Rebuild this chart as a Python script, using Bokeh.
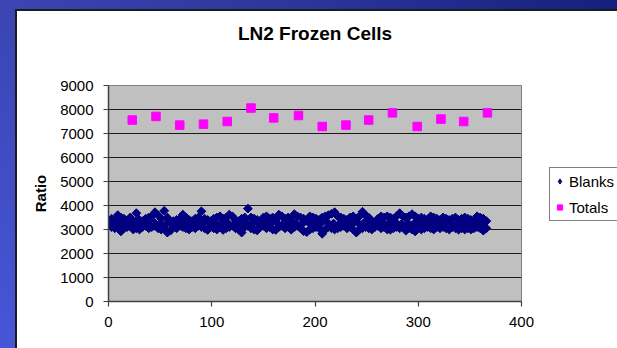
from bokeh.plotting import figure
from bokeh.models import Range1d, FixedTicker, Legend, LegendItem, ColumnDataSource, Div, Title
from bokeh.layouts import row, column
from bokeh.embed import file_html
from bokeh.resources import INLINE
import math

# ---------------- data ----------------
chart_title = "LN2 Frozen Cells"
x_ticks = [0, 100, 200, 300, 400]
y_ticks = [0, 1000, 2000, 3000, 4000, 5000, 6000, 7000, 8000, 9000]

totals_day = [23, 46, 69, 92, 115, 138, 160, 184, 207, 230, 252, 275, 299, 322, 344, 367]
totals_ratio = [7560, 7710, 7350, 7390, 7500, 8060, 7650, 7750, 7290, 7350, 7560, 7860, 7290, 7600, 7500, 7860]

blank_days_a = [0, 3, 6, 9, 12, 15, 18, 21, 24, 27, 30, 33, 36, 39, 42, 45, 48, 51, 54, 57,
                60, 63, 66, 69, 72, 75, 78, 81, 84, 87, 90, 93, 96, 99, 102, 105, 108, 111, 114, 117,
                120, 123, 126, 129, 132, 135, 138, 141, 144, 147, 150, 153, 156, 159, 162, 165, 168, 171, 174, 177,
                180, 183, 186, 189, 192, 195, 198, 201, 204, 207, 210, 213, 216, 219, 222, 225, 228, 231, 234, 237,
                240, 243, 246, 249, 252, 255, 258, 261, 264, 267, 270, 273, 276, 279, 282, 285, 288, 291, 294, 297,
                300, 303, 306, 309, 312, 315, 318, 321, 324, 327, 330, 333, 336, 339, 342, 345, 348, 351, 354, 357,
                360, 363, 366]
blank_upper = [3400, 3450, 3350, 3600, 3500, 3450, 3350, 3500, 3300, 3680, 3400, 3350, 3450, 3500, 3550, 3720, 3600, 3450, 3780, 3500,
               3300, 3350, 3400, 3450, 3620, 3500, 3400, 3350, 3450, 3500, 3760, 3450, 3400, 3350, 3450, 3500, 3550, 3450, 3500, 3620,
               3550, 3400, 3350, 3450, 3500, 3870, 3500, 3450, 3400, 3350, 3500, 3550, 3450, 3500, 3400, 3620, 3550, 3450, 3500, 3400,
               3640, 3550, 3500, 3450, 3400, 3550, 3500, 3450, 3400, 3500, 3550, 3600, 3650, 3720, 3550, 3500, 3450, 3400, 3500, 3550,
               3450, 3550, 3740, 3600, 3500, 3350, 3300, 3450, 3550, 3500, 3550, 3500, 3450, 3550, 3680, 3550, 3500, 3550, 3640, 3550,
               3450, 3500, 3450, 3400, 3550, 3500, 3450, 3400, 3500, 3450, 3400, 3450, 3500, 3400, 3450, 3500, 3450, 3400, 3350, 3550,
               3500, 3450, 3350]
blank_lower = [3150, 3100, 3050, 3150, 2920, 3050, 3100, 3150, 3000, 3050, 3000, 3100, 3150, 3050, 3100, 3150, 3050, 3000, 3100, 2870,
               2950, 3100, 3050, 3150, 3100, 3050, 3000, 3100, 3050, 3150, 3100, 3050, 2980, 3100, 3050, 3000, 3100, 2980, 3050, 3100,
               3150, 3050, 3000, 2870, 3100, 3150, 3050, 3000, 2960, 3100, 3150, 3050, 3100, 3000, 2980, 3100, 3150, 3050, 3100, 2990,
               3100, 3150, 3050, 2930, 2890, 3000, 3050, 3100, 3050, 2820, 3000, 3100, 3050, 3000, 3050, 3100, 3150, 3050, 3100, 3000,
               2870, 3000, 3050, 3100, 3050, 3000, 3100, 3150, 3050, 3100, 3000, 2990, 3050, 3100, 3050, 3100, 2950, 3050, 3000, 2920,
               3050, 3000, 3050, 3100, 3050, 3000, 3100, 3050, 3100, 3050, 3000, 3100, 3050, 2990, 3050, 3000, 3050, 3000, 3050, 3100,
               3050, 2950, 3050]
blank_days_b = [2, 8, 14, 20, 26, 32, 38, 44, 50, 56, 62, 68, 74, 80, 86, 92, 98, 104, 110, 116,
                122, 128, 134, 140, 146, 152, 158, 164, 170, 176, 182, 188, 194, 200, 206, 212, 218, 224, 230, 236,
                242, 248, 254, 260, 266, 272, 278, 284, 290, 296, 302, 308, 314, 320, 326, 332, 338, 344, 350, 356, 362]
blank_mid = [3250, 3300, 3200, 3280, 3320, 3230, 3260, 3300, 3210, 3250, 3280, 3240, 3300, 3220, 3270, 3310, 3250, 3200, 3290, 3260,
             3230, 3300, 3250, 3270, 3220, 3310, 3280, 3240, 3260, 3300, 3230, 3250, 3280, 3210, 3270, 3300, 3250, 3240, 3290, 3220,
             3260, 3300, 3250, 3230, 3280, 3260, 3300, 3240, 3270, 3250, 3220, 3290, 3260, 3240, 3280, 3250, 3230, 3270, 3260, 3290, 3250]

blanks = ColumnDataSource(dict(
    day=blank_days_a + blank_days_b + blank_days_a,
    ratio=blank_upper + blank_mid + blank_lower,
))
totals = ColumnDataSource(dict(day=totals_day, ratio=totals_ratio))

FONT = "Liberation Sans"
BLANK_COLOR = "#000080"
TOTAL_COLOR = "#FF00FF"

# ---------------- main chart ----------------
p = figure(width=519, height=337, output_backend="svg", toolbar_location=None,
           x_range=Range1d(0, 400), y_range=Range1d(0, 9000),
           min_border_left=91, min_border_right=15, min_border_top=74, min_border_bottom=47,
           margin=0)
p.title = None

# spacer (nearest the frame) then the real title above it
spacer = Title(text=" ", text_font_size="2px", standoff=38)
p.add_layout(spacer, "above")
title = Title(text=chart_title, text_font=FONT, text_font_size="19px", text_font_style="bold",
              text_color="black", align="center", standoff=0)
p.add_layout(title, "above")

p.border_fill_color = "white"
p.background_fill_color = "#C0C0C0"
p.outline_line_color = "#808080"
p.outline_line_width = 1

p.scatter("day", "ratio", source=blanks, marker="square", angle=math.pi / 4, size=6.2,
          fill_color=BLANK_COLOR, line_color=BLANK_COLOR)
p.scatter("day", "ratio", source=totals, marker="square", size=8.5,
          fill_color=TOTAL_COLOR, line_color=TOTAL_COLOR)

p.xgrid.visible = False
p.ygrid.grid_line_color = "#1a1a1a"
p.ygrid.grid_line_width = 1
p.ygrid.ticker = FixedTicker(ticks=y_ticks)

for ax in (p.xaxis[0], p.yaxis[0]):
    ax.axis_line_color = "#404040"
    ax.axis_line_width = 1.5
    ax.major_tick_line_color = "#404040"
    ax.major_tick_line_width = 1.2
    ax.major_tick_out = 5
    ax.major_tick_in = 0
    ax.minor_tick_out = 0
    ax.minor_tick_in = 0
    ax.major_label_text_font = FONT
    ax.major_label_text_font_size = "15px"
    ax.major_label_text_color = "black"

p.xaxis[0].ticker = FixedTicker(ticks=x_ticks)
p.yaxis[0].ticker = FixedTicker(ticks=y_ticks)
p.xaxis[0].major_label_standoff = 10
p.yaxis[0].major_label_standoff = 10
p.yaxis[0].axis_label = "Ratio"
p.yaxis[0].axis_label_text_font = FONT
p.yaxis[0].axis_label_text_font_size = "15px"
p.yaxis[0].axis_label_text_font_style = "bold"
p.yaxis[0].axis_label_text_color = "black"
p.yaxis[0].axis_label_standoff = 8

# ---------------- legend panel (separate figure to the right) ----------------
# Same data, drawn against ranges where none of it falls inside, so only the legend shows.
lf = figure(width=81, height=337, output_backend="svg", toolbar_location=None,
            x_range=Range1d(-1000, -999), y_range=Range1d(-1000, -999), min_border=0, margin=0,
            x_axis_location=None, y_axis_location=None)
lf.border_fill_color = "white"
lf.background_fill_color = "white"
lf.outline_line_color = None
lf.xgrid.visible = False
lf.ygrid.visible = False
lb = lf.scatter("day", "ratio", source=blanks, marker="diamond", size=9,
                fill_color=BLANK_COLOR, line_color=BLANK_COLOR)
lt = lf.scatter("day", "ratio", source=totals, marker="square", size=8.5,
                fill_color=TOTAL_COLOR, line_color=TOTAL_COLOR)

legend = Legend(items=[LegendItem(label="Blanks", renderers=[lb]),
                       LegendItem(label="Totals", renderers=[lt])],
                location=(13, 80), orientation="vertical")
legend.border_line_color = "#000000"
legend.border_line_width = 1
legend.background_fill_color = "white"
legend.background_fill_alpha = 1
legend.label_text_font = FONT
legend.label_text_font_size = "15px"
legend.label_text_color = "black"
legend.label_height = 20
legend.glyph_height = 20
legend.glyph_width = 13
legend.spacing = 6
legend.padding = 3
legend.label_standoff = 3
legend.margin = 0
lf.add_layout(legend, "center")

# ---------------- slide background strips ----------------
top_strip = Div(width=600, height=11, margin=0, styles={
    "background": "linear-gradient(to bottom, transparent 9px, #1c1c1c 9px), "
                  "linear-gradient(to right, #3a44b2, #2a3598 50%, #14207f)"})
left_strip = Div(width=17, height=348, margin=0, styles={
    "background": "linear-gradient(to right, transparent 15px, #1c1c1c 15px) 0 9px / 100% 100% no-repeat, "
                  "linear-gradient(to bottom, #3a44b2, #4656d8)"})

layout = row(left_strip, column(top_strip, row(p, lf, spacing=0, margin=0), spacing=0, margin=0),
             spacing=0, margin=0)

open("out.html", "w").write(file_html(layout, INLINE))
